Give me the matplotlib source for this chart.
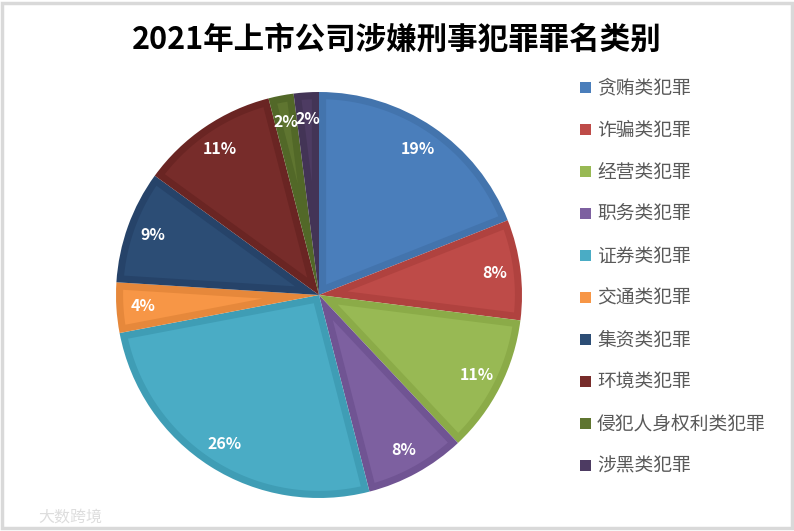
import numpy as np
import matplotlib
matplotlib.use("Agg")
import matplotlib.pyplot as plt
from matplotlib.patches import Rectangle, Polygon

plt.rcParams['font.family'] = ['Noto Sans CJK SC', 'DejaVu Sans']

title = "2021年上市公司涉嫌刑事犯罪罪名类别"
categories = ["贪贿类犯罪", "诈骗类犯罪", "经营类犯罪", "职务类犯罪", "证券类犯罪",
              "交通类犯罪", "集资类犯罪", "环境类犯罪", "侵犯人身权利类犯罪", "涉黑类犯罪"]
shares = [19, 8, 11, 8, 26, 4, 9, 11, 2, 2]
face_colors = ["#4A7EBB", "#BE4B48", "#98B954", "#7D60A0", "#4AACC5",
               "#F79646", "#2C4D75", "#772C2A", "#5F7530", "#4D3B62"]
band_colors = ["#4374AD", "#B0423F", "#8BAB48", "#705493", "#3F9DB5",
               "#E6883B", "#264369", "#6A2523", "#526828", "#433456"]


def inset_wedge(w, d):
    """inner part of a wedge, inset by d on every side (gives the bevel band)"""
    t1, t2 = np.radians(w.theta1), np.radians(w.theta2)
    r = w.r - d
    half = (t2 - t1) / 2
    delta = np.arcsin(min(d / r, 1))
    arc = np.linspace(t1 + delta, t2 - delta, 60)
    mid = t1 + half
    apex = d / np.sin(half) if half < np.pi / 2 else d
    pts = [(apex * np.cos(mid), apex * np.sin(mid))]
    pts += [(r * np.cos(a), r * np.sin(a)) for a in arc]
    return pts


fig = plt.figure(figsize=(7.94, 5.31), dpi=100)
fig.patch.set_facecolor("white")

# pie axes: centre ~ (319, 295) px, radius ~ 203 px
ax = fig.add_axes([116 / 794, 33 / 531, 406 / 794, 406 / 531])
wedges, texts = ax.pie(shares, colors=band_colors, startangle=90, counterclock=False,
                       radius=1.0, labels=[f"{v}%" for v in shares], labeldistance=0.87,
                       textprops=dict(color="white", fontsize=11.5, fontweight="bold",
                                      zorder=5),
                       wedgeprops=dict(linewidth=0))
for w, fc in zip(wedges, face_colors):
    ax.add_patch(Polygon(inset_wedge(w, 0.035), closed=True, facecolor=fc,
                         edgecolor="none", zorder=w.get_zorder() + 0.1))
for t in texts:
    t.set_ha("center")
    t.set_va("center")
ax.set_xlim(-1, 1)
ax.set_ylim(-1, 1)
ax.set_aspect("equal")
ax.axis("off")

fig.text(397, 531 - 40, title, transform=None, ha="center", va="center",
         fontsize=22, fontweight="bold", color="black")

# legend drawn manually to match spacing
for i, (name, col) in enumerate(zip(categories, face_colors)):
    y = 531 - (88 + 42 * i)
    fig.patches.append(Rectangle((580, y - 5), 11, 11, transform=None,
                                 facecolor=col, edgecolor="none", figure=fig))
    fig.text(597, y, name, transform=None, ha="left", va="center",
             fontsize=13.5, color="#595959")

# watermark
fig.text(38, 14, "大数跨境", transform=None, ha="left", va="center",
         fontsize=11.5, color="#DDDDDD")

# border
fig.patches.append(Rectangle((1.5, 3.5), 790, 525, transform=None, fill=False,
                             edgecolor="#D9D9D9", linewidth=2.5, figure=fig))

fig.savefig("out.png", dpi=100, facecolor="white")
